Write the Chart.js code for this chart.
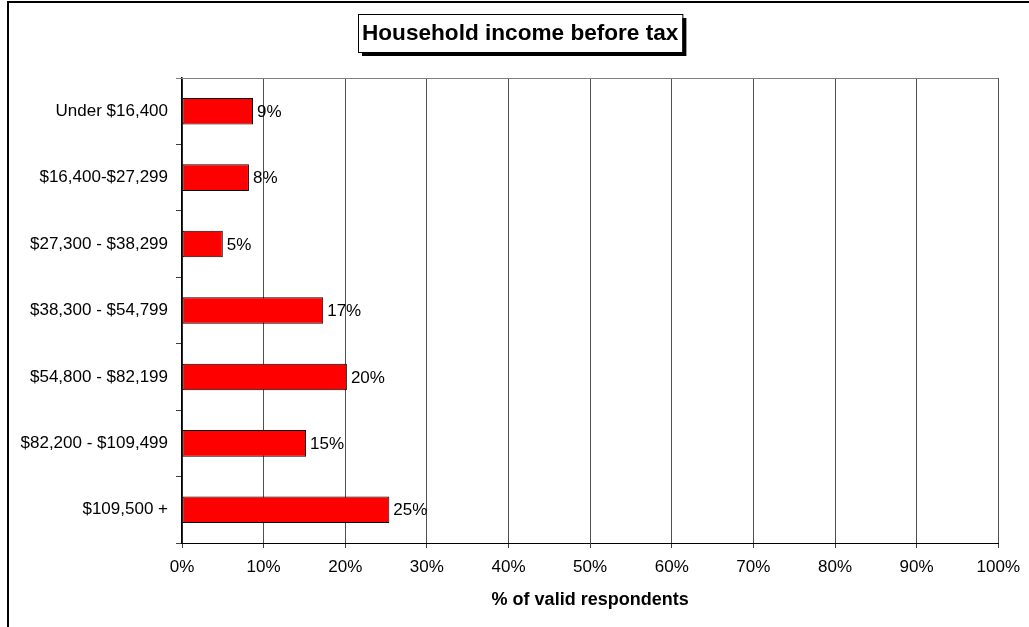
<!DOCTYPE html>
<html>
<head>
<meta charset="utf-8">
<script src="https://cdn.jsdelivr.net/npm/chart.js@4"></script>
<style>
  html, body { margin: 0; padding: 0; background: #fff; }
  #wrap { width: 1029px; height: 627px; position: relative; }
</style>
</head>
<body>
<div id="wrap"><canvas id="income"></canvas></div>
<script>
const categories = [
    'Under $16,400',
    '$16,400-$27,299',
    '$27,300 - $38,299',
    '$38,300 - $54,799',
    '$54,800 - $82,199',
    '$82,200 - $109,499',
    '$109,500 +'
]
const shares = [8.7, 8.2, 5.0, 17.3, 20.2, 15.2, 25.4]
const xTicks = [0, 10, 20, 30, 40, 50, 60, 70, 80, 90, 100]
const titleText = 'Household income before tax'
const xTitle = '% of valid respondents'

const FONT = '"Liberation Sans", Arial, sans-serif'

// title box with drop shadow, outer frame, plot top line, value labels
const decorations = {
    id: 'decorations',
    afterDraw(chart) {
        const ctx = chart.ctx
        const area = chart.chartArea
        ctx.save()

        // outer frame (left + top visible)
        ctx.strokeStyle = '#000'
        ctx.lineWidth = 2
        ctx.beginPath()
        ctx.moveTo(8, 627)
        ctx.lineTo(8, 2)
        ctx.lineTo(1029, 2)
        ctx.stroke()

        // top edge of plot
        ctx.strokeStyle = '#808080'
        ctx.lineWidth = 1
        ctx.beginPath()
        ctx.moveTo(area.left - 6, area.top + 0.5)
        ctx.lineTo(area.right, area.top + 0.5)
        ctx.stroke()

        // title box
        ctx.font = 'bold 22.6px ' + FONT
        const w = ctx.measureText(titleText).width + 8
        const cx = 520, top = 14, h = 38
        const left = Math.round(cx - w / 2)
        ctx.fillStyle = '#000'
        ctx.fillRect(left + 4, top + 4, w, h)
        ctx.fillStyle = '#fff'
        ctx.fillRect(left, top, w, h)
        ctx.strokeStyle = '#000'
        ctx.lineWidth = 1
        ctx.strokeRect(left + 0.5, top + 0.5, w, h)
        ctx.fillStyle = '#000'
        ctx.textAlign = 'center'
        ctx.textBaseline = 'middle'
        ctx.fillText(titleText, left + w / 2, top + h / 2 + 1)

        // value labels
        ctx.font = '17px ' + FONT
        ctx.textAlign = 'left'
        chart.getDatasetMeta(0).data.forEach((bar, i) => {
            ctx.fillText(Math.round(shares[i]) + '%', bar.x + 4, bar.y + 1)
        })
        ctx.restore()
    }
}

new Chart(document.getElementById('income'), {
    type: 'bar',
    data: {
        labels: categories,
        datasets: [{
            data: shares,
            backgroundColor: '#ff0000',
            borderColor: '#000',
            borderWidth: 1,
            borderSkipped: false,
            barPercentage: 0.4,
            categoryPercentage: 1
        }]
    },
    options: {
        indexAxis: 'y',
        responsive: true,
        maintainAspectRatio: false,
        animation: false,
        layout: { padding: { left: 0, right: 29, top: 78, bottom: 16 } },
        plugins: {
            legend: { display: false },
            tooltip: { enabled: false },
            title: { display: false }
        },
        scales: {
            x: {
                min: 0,
                max: 100,
                afterFit: (s) => { s.height = 68 },
                afterBuildTicks: (s) => { s.ticks = xTicks.map(v => ({ value: v })) },
                ticks: {
                    callback: (v) => v + '%',
                    color: '#000',
                    font: { family: FONT, size: 17 },
                    padding: 9,
                    maxRotation: 0
                },
                grid: {
                    color: '#505050',
                    lineWidth: 1,
                    drawTicks: true,
                    tickLength: 5,
                    tickColor: '#404040'
                },
                border: { display: true, color: '#000', width: 1 },
                title: {
                    display: true,
                    text: xTitle,
                    color: '#000',
                    font: { family: FONT, size: 18, weight: 'bold' },
                    padding: { top: 0, bottom: 0 }
                }
            },
            y: {
                afterFit: (s) => { s.width = 182 },
                ticks: {
                    color: '#000',
                    font: { family: FONT, size: 17 },
                    padding: 8
                },
                grid: {
                    offset: true,
                    drawOnChartArea: false,
                    drawTicks: true,
                    tickLength: 6,
                    tickColor: '#404040'
                },
                border: { display: true, color: '#000', width: 1.5 }
            }
        }
    },
    plugins: [decorations]
})
</script>
</body>
</html>
